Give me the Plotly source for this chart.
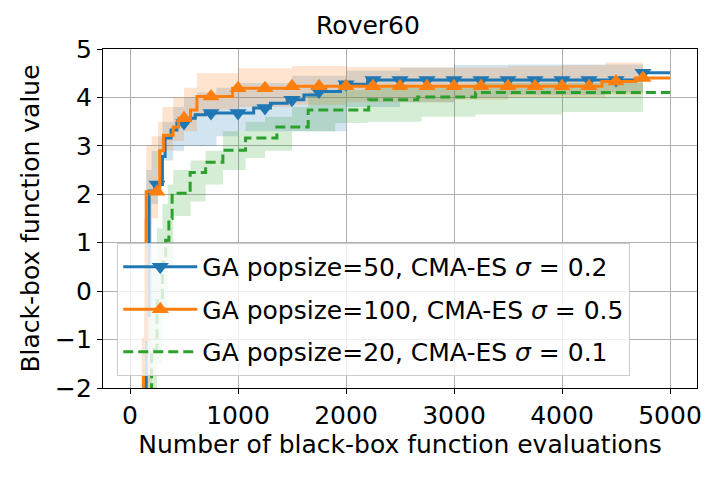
import numpy as np
import plotly.graph_objects as go

# best-so-far curves (step shaped)
blue_x = [0, 120, 150, 177, 230, 300, 325, 380, 434, 511, 604, 700, 1145, 1300, 1456, 1610, 1735, 1950, 2200, 4740, 5000]
blue_y = [-6, -3, -0.5, 2.07, 2.2, 2.78, 3.16, 3.33, 3.47, 3.57, 3.64, 3.68, 3.78, 3.88, 3.95, 4.05, 4.12, 4.27, 4.36, 4.51, 4.51]

orange_x = [0, 100, 125, 150, 275, 310, 400, 450, 560, 620, 950, 1500, 4370, 4680, 5000]
orange_y = [-6, -3, -1, 2.05, 2.9, 3.22, 3.39, 3.57, 3.74, 4.02, 4.19, 4.23, 4.33, 4.40, 4.40]

green_x = [0, 150, 200, 250, 300, 330, 360, 390, 557, 700, 860, 1070, 1360, 1650, 2210, 2664, 3200, 5000]
green_y = [-6, -2.5, -1.2, -0.2, 0.6, 1.05, 1.5, 2.02, 2.45, 2.66, 2.91, 3.16, 3.39, 3.74, 3.95, 4.01, 4.10, 4.10]

# shaded spread around each curve
band_x = [0, 100, 130, 150, 200, 260, 300, 400, 500, 620, 800, 1000, 1500, 2000, 2500, 3000, 3500, 4000, 4400, 4750]
blue_hi = [-4, -2, 0, 2.5, 2.9, 3.2, 3.5, 3.8, 4.0, 4.1, 4.2, 4.3, 4.45, 4.55, 4.62, 4.67, 4.68, 4.68, 4.68, 4.7]
blue_lo = [-8, -6, -4, -1, 1.8, 2.4, 2.7, 2.9, 3.0, 3.0, 3.2, 3.3, 3.3, 3.8, 3.9, 4.0, 4.05, 4.05, 4.1, 4.1]
orange_hi = [-4, -1, 1.5, 3.0, 3.2, 3.5, 3.8, 4.0, 4.2, 4.5, 4.5, 4.6, 4.65, 4.63, 4.62, 4.62, 4.65, 4.67, 4.72, 4.72]
orange_lo = [-8, -6, -4, -2.5, 1.5, 2.6, 2.9, 3.1, 3.3, 3.6, 3.75, 3.8, 3.85, 3.9, 3.9, 3.95, 4.0, 4.0, 4.05, 4.05]

gband_x = [0, 150, 200, 250, 300, 350, 400, 560, 700, 860, 1070, 1250, 1500, 1650, 1900, 2200, 2700, 3200, 4000, 4750]
green_hi = [-4, -1.0, 0.5, 1.3, 1.8, 2.2, 2.5, 2.7, 2.9, 3.3, 3.5, 3.6, 3.8, 4.1, 4.15, 4.2, 4.25, 4.3, 4.3, 4.3]
green_lo = [-8, -5, -3, -1.5, -0.5, 0.5, 1.55, 1.85, 2.2, 2.5, 2.75, 2.9, 3.3, 3.3, 3.47, 3.5, 3.6, 3.65, 3.7, 3.76]

marker_x = [250, 500, 750, 1000, 1250, 1500, 1750, 2000, 2250, 2500, 2750, 3000, 3250, 3500, 3750, 4000, 4250, 4500, 4750]

labels = ['GA popsize=50, CMA-ES <i>σ</i> = 0.2',
          'GA popsize=100, CMA-ES <i>σ</i> = 0.5',
          'GA popsize=20, CMA-ES <i>σ</i> = 0.1']

BLUE = '#1f77b4'
ORANGE = '#ff7f0e'
GREEN = '#2ca02c'
MSIZE = 15


def step_at(xs, ys, q):
    idx = np.searchsorted(np.array(xs), np.array(q), side='right') - 1
    return np.array(ys)[idx]


def add_band(fig, x, lo, hi, rgb):
    fig.add_trace(go.Scatter(x=x, y=lo, mode='lines', line=dict(width=0, shape='hv'),
                             showlegend=False, hoverinfo='skip'))
    fig.add_trace(go.Scatter(x=x, y=hi, mode='lines', line=dict(width=0, shape='hv'),
                             fill='tonexty', fillcolor='rgba(%d,%d,%d,0.2)' % rgb,
                             showlegend=False, hoverinfo='skip'))


fig = go.Figure()
add_band(fig, band_x, blue_lo, blue_hi, (31, 119, 180))
add_band(fig, band_x, orange_lo, orange_hi, (255, 127, 14))
add_band(fig, gband_x, green_lo, green_hi, (44, 160, 44))

fig.add_trace(go.Scatter(x=blue_x, y=blue_y, mode='lines', line=dict(color=BLUE, width=3, shape='hv'),
                         showlegend=False))
fig.add_trace(go.Scatter(x=marker_x, y=step_at(blue_x, blue_y, marker_x), mode='markers',
                         marker=dict(symbol='triangle-down', size=MSIZE, color=BLUE), showlegend=False))
fig.add_trace(go.Scatter(x=orange_x, y=orange_y, mode='lines', line=dict(color=ORANGE, width=3, shape='hv'),
                         showlegend=False))
fig.add_trace(go.Scatter(x=marker_x, y=step_at(orange_x, orange_y, marker_x), mode='markers',
                         marker=dict(symbol='triangle-up', size=MSIZE, color=ORANGE), showlegend=False))
fig.add_trace(go.Scatter(x=green_x, y=green_y, mode='lines',
                         line=dict(color=GREEN, width=3, shape='hv', dash='10px,5px'), showlegend=False))

# legend entries
fig.add_trace(go.Scatter(x=[None], y=[None], mode='lines+markers', name=labels[0], legendgroup='a',
                         line=dict(color=BLUE, width=3), marker=dict(symbol='triangle-down', size=MSIZE, color=BLUE)))
fig.add_trace(go.Scatter(x=[None], y=[None], mode='lines+markers', name=labels[1], legendgroup='b',
                         line=dict(color=ORANGE, width=3), marker=dict(symbol='triangle-up', size=MSIZE, color=ORANGE)))
fig.add_trace(go.Scatter(x=[None], y=[None], mode='lines', name=labels[2], legendgroup='c',
                         line=dict(color=GREEN, width=3, dash='10px,5px')))

axis_style = dict(showline=True, linewidth=1.2, linecolor='black', mirror=True,
                  ticks='outside', ticklen=5, tickwidth=1.2, tickcolor='black',
                  showgrid=True, gridcolor='#b0b0b0', gridwidth=1, zeroline=False,
                  automargin=False, tickfont=dict(size=25))
fig.update_xaxes(range=[-250, 5250], tickvals=[0, 1000, 2000, 3000, 4000, 5000],
                 title=dict(text='Number of black-box function evaluations', standoff=4,
                            font=dict(size=25)), **axis_style)
fig.update_yaxes(range=[-2, 5], dtick=1,
                 title=dict(text='Black-box function value', standoff=8,
                            font=dict(size=25)), **axis_style)

# the page puts the figure 8px in from the top-left corner, so the margins allow for it
fig.update_layout(width=720, height=480, plot_bgcolor='white', paper_bgcolor='white',
                  margin=dict(l=95, r=31, t=41, b=100),
                  font=dict(family='DejaVu Sans', size=25, color='black'),
                  title=dict(text='Rover60', x=0.5, xanchor='center', y=0.965, yanchor='middle',
                             font=dict(size=25)),
                  legend=dict(x=0.024, y=0.428, xanchor='left', yanchor='top', traceorder='grouped',
                              bgcolor='rgba(255,255,255,0.8)', bordercolor='#cccccc', borderwidth=1,
                              font=dict(size=25), itemwidth=74, tracegroupgap=7))

fig.write_html("out.html")
